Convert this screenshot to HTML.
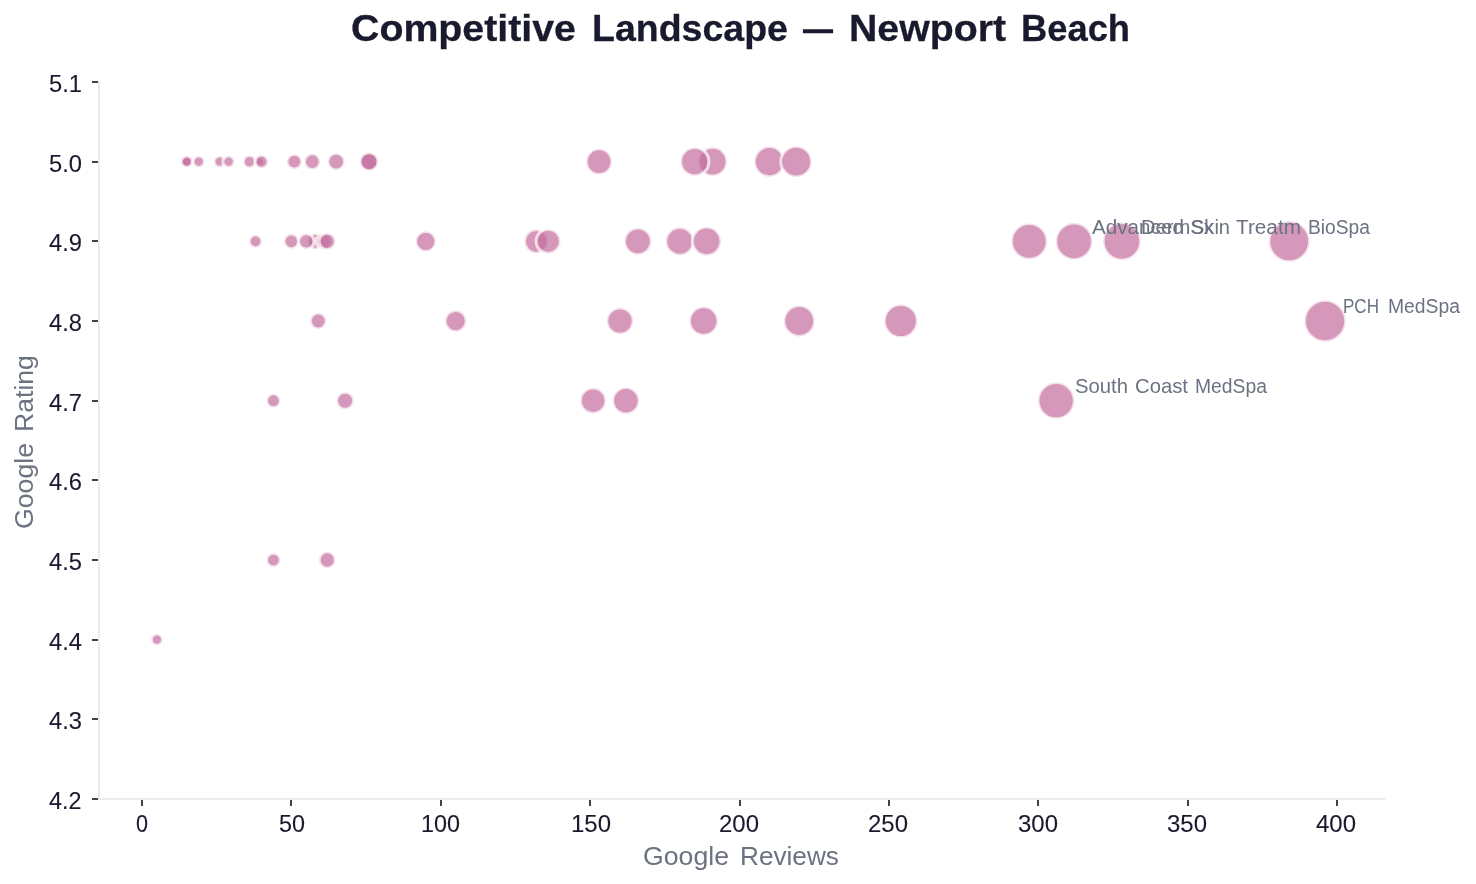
<!DOCTYPE html>
<html><head><meta charset="utf-8"><title>Competitive Landscape — Newport Beach</title>
<style>
html,body{margin:0;padding:0;background:#fff;}
body{width:1476px;height:884px;overflow:hidden;}
svg{display:block;will-change:transform;font-family:"Liberation Sans", sans-serif;}
</style></head><body>
<svg width="1476" height="884" viewBox="0 0 1476 884">
<rect x="0" y="0" width="1476" height="884" fill="#ffffff"/>

<rect x="98" y="81" width="2" height="719" fill="#e9ebee"/>
<rect x="98" y="798" width="1287" height="2" fill="#e9ebee"/>
<rect x="92" y="81" width="6" height="2" fill="rgb(64,64,80)"/>
<rect x="92" y="161" width="6" height="2" fill="rgb(64,64,80)"/>
<rect x="92" y="240" width="6" height="2" fill="rgb(64,64,80)"/>
<rect x="92" y="320" width="6" height="2" fill="rgb(64,64,80)"/>
<rect x="92" y="400" width="6" height="2" fill="rgb(64,64,80)"/>
<rect x="92" y="479" width="6" height="2" fill="rgb(64,64,80)"/>
<rect x="92" y="559" width="6" height="2" fill="rgb(64,64,80)"/>
<rect x="92" y="639" width="6" height="2" fill="rgb(64,64,80)"/>
<rect x="92" y="718" width="6" height="2" fill="rgb(64,64,80)"/>
<rect x="92" y="798" width="6" height="2" fill="rgb(64,64,80)"/>
<rect x="141" y="800" width="2" height="6" fill="rgb(64,64,80)"/>
<rect x="290" y="800" width="2" height="6" fill="rgb(64,64,80)"/>
<rect x="440" y="800" width="2" height="6" fill="rgb(64,64,80)"/>
<rect x="589" y="800" width="2" height="6" fill="rgb(64,64,80)"/>
<rect x="739" y="800" width="2" height="6" fill="rgb(64,64,80)"/>
<rect x="888" y="800" width="2" height="6" fill="rgb(64,64,80)"/>
<rect x="1037" y="800" width="2" height="6" fill="rgb(64,64,80)"/>
<rect x="1187" y="800" width="2" height="6" fill="rgb(64,64,80)"/>
<rect x="1336" y="800" width="2" height="6" fill="rgb(64,64,80)"/>
<g fill="rgb(195,108,156)" fill-opacity="0.7" stroke="#ffffff" stroke-opacity="0.7" stroke-width="3.125">
<circle cx="186.81" cy="161.66" r="5.71"/>
<circle cx="186.81" cy="161.66" r="5.71"/>
<circle cx="198.76" cy="161.66" r="5.71"/>
<circle cx="219.68" cy="161.66" r="5.71"/>
<circle cx="228.64" cy="161.66" r="5.71"/>
<circle cx="249.55" cy="161.66" r="6.25"/>
<circle cx="260.1" cy="161.66" r="4.5"/>
<circle cx="261.50" cy="161.66" r="6.59"/>
<circle cx="294.36" cy="161.66" r="7.44"/>
<circle cx="312.29" cy="161.66" r="7.86"/>
<circle cx="336.19" cy="161.66" r="8.40"/>
<circle cx="369.05" cy="161.66" r="9.08"/>
<circle cx="369.05" cy="161.66" r="9.08"/>
<circle cx="599.09" cy="161.66" r="12.88"/>
<circle cx="712.61" cy="161.66" r="14.40"/>
<circle cx="694.69" cy="161.66" r="14.17"/>
<circle cx="769.38" cy="161.66" r="15.10"/>
<circle cx="796.26" cy="161.66" r="15.42"/>
<circle cx="255.52" cy="241.33" r="6.42"/>
<circle cx="291.38" cy="241.33" r="7.37"/>
<circle cx="315.27" cy="241.33" r="7.93"/>
<circle cx="306.31" cy="241.33" r="7.73"/>
<circle cx="324.24" cy="241.33" r="8.14"/>
<circle cx="327.23" cy="241.33" r="8.20"/>
<circle cx="425.81" cy="241.33" r="10.15"/>
<circle cx="536.35" cy="241.33" r="11.97"/>
<circle cx="548.30" cy="241.33" r="12.15"/>
<circle cx="637.92" cy="241.33" r="13.42"/>
<circle cx="679.75" cy="241.33" r="13.98"/>
<circle cx="706.64" cy="241.33" r="14.32"/>
<circle cx="1029.29" cy="241.33" r="17.95"/>
<circle cx="1074.10" cy="241.33" r="18.40"/>
<circle cx="1121.90" cy="241.33" r="18.87"/>
<circle cx="1289.20" cy="241.33" r="20.41"/>
<circle cx="318.26" cy="321.00" r="8.00"/>
<circle cx="455.69" cy="321.00" r="10.67"/>
<circle cx="620.00" cy="321.00" r="13.18"/>
<circle cx="703.65" cy="321.00" r="14.28"/>
<circle cx="799.25" cy="321.00" r="15.45"/>
<circle cx="900.82" cy="321.00" r="16.60"/>
<circle cx="1325.05" cy="321.00" r="20.73"/>
<circle cx="273.45" cy="400.67" r="6.91"/>
<circle cx="345.15" cy="400.67" r="8.59"/>
<circle cx="593.11" cy="400.67" r="12.80"/>
<circle cx="625.97" cy="400.67" r="13.26"/>
<circle cx="1056.17" cy="400.67" r="18.22"/>
<circle cx="273.45" cy="560.00" r="6.91"/>
<circle cx="327.23" cy="560.00" r="8.20"/>
<circle cx="156.94" cy="639.67" r="5.71"/>
</g>
<text transform="translate(351.00,41.00) scale(1.0820,1)" font-size="36.34" fill="#1a1a2e" font-weight="bold" stroke="#1a1a2e" stroke-width="0.28">Competitive</text>
<text transform="translate(592.00,41.00) scale(1.0325,1)" font-size="36.34" fill="#1a1a2e" font-weight="bold" stroke="#1a1a2e" stroke-width="0.28">Landscape</text>
<text transform="translate(803.00,41.00) scale(0.8256,1)" font-size="36.34" fill="#1a1a2e" font-weight="bold" stroke="#1a1a2e" stroke-width="0.28">—</text>
<text transform="translate(849.00,41.00) scale(1.0802,1)" font-size="36.34" fill="#1a1a2e" font-weight="bold" stroke="#1a1a2e" stroke-width="0.28">Newport</text>
<text transform="translate(1021.00,41.00) scale(0.9996,1)" font-size="36.34" fill="#1a1a2e" font-weight="bold" stroke="#1a1a2e" stroke-width="0.28">Beach</text>
<text transform="translate(136.00,832.00) scale(0.8735,1)" font-size="24.71" fill="#1a1a2e" stroke="#1a1a2e" stroke-width="0.1">0</text>
<text transform="translate(279.00,832.00) scale(0.9463,1)" font-size="24.71" fill="#1a1a2e" stroke="#1a1a2e" stroke-width="0.1">50</text>
<text transform="translate(421.00,832.00) scale(0.9463,1)" font-size="24.71" fill="#1a1a2e" stroke="#1a1a2e" stroke-width="0.1">100</text>
<text transform="translate(571.00,832.00) scale(0.9705,1)" font-size="24.71" fill="#1a1a2e" stroke="#1a1a2e" stroke-width="0.1">150</text>
<text transform="translate(719.00,832.00) scale(0.9705,1)" font-size="24.71" fill="#1a1a2e" stroke="#1a1a2e" stroke-width="0.1">200</text>
<text transform="translate(868.00,832.00) scale(0.9705,1)" font-size="24.71" fill="#1a1a2e" stroke="#1a1a2e" stroke-width="0.1">250</text>
<text transform="translate(1018.00,832.00) scale(0.9705,1)" font-size="24.71" fill="#1a1a2e" stroke="#1a1a2e" stroke-width="0.1">300</text>
<text transform="translate(1167.00,832.00) scale(0.9705,1)" font-size="24.71" fill="#1a1a2e" stroke="#1a1a2e" stroke-width="0.1">350</text>
<text transform="translate(1316.00,832.00) scale(0.9705,1)" font-size="24.71" fill="#1a1a2e" stroke="#1a1a2e" stroke-width="0.1">400</text>
<text transform="translate(49.00,92.00) scale(0.9608,1)" font-size="24.71" fill="#1a1a2e" stroke="#1a1a2e" stroke-width="0.1">5.1</text>
<text transform="translate(49.00,172.00) scale(0.9608,1)" font-size="24.71" fill="#1a1a2e" stroke="#1a1a2e" stroke-width="0.1">5.0</text>
<text transform="translate(49.00,251.00) scale(0.9608,1)" font-size="24.71" fill="#1a1a2e" stroke="#1a1a2e" stroke-width="0.1">4.9</text>
<text transform="translate(49.00,331.00) scale(0.9608,1)" font-size="24.71" fill="#1a1a2e" stroke="#1a1a2e" stroke-width="0.1">4.8</text>
<text transform="translate(49.00,411.00) scale(0.9608,1)" font-size="24.71" fill="#1a1a2e" stroke="#1a1a2e" stroke-width="0.1">4.7</text>
<text transform="translate(49.00,490.00) scale(0.9608,1)" font-size="24.71" fill="#1a1a2e" stroke="#1a1a2e" stroke-width="0.1">4.6</text>
<text transform="translate(49.00,570.00) scale(0.9608,1)" font-size="24.71" fill="#1a1a2e" stroke="#1a1a2e" stroke-width="0.1">4.5</text>
<text transform="translate(49.00,650.00) scale(0.9608,1)" font-size="24.71" fill="#1a1a2e" stroke="#1a1a2e" stroke-width="0.1">4.4</text>
<text transform="translate(49.00,729.00) scale(0.9608,1)" font-size="24.71" fill="#1a1a2e" stroke="#1a1a2e" stroke-width="0.1">4.3</text>
<text transform="translate(49.00,809.00) scale(0.9463,1)" font-size="24.71" fill="#1a1a2e" stroke="#1a1a2e" stroke-width="0.1">4.2</text>
<text transform="translate(643.00,865.00) scale(1.0193,1)" font-size="26.16" fill="#6b7280">Google</text>
<text transform="translate(740.00,865.00) scale(1.0013,1)" font-size="26.16" fill="#6b7280">Reviews</text>
<text transform="translate(33.00,529.00) rotate(-90) scale(1.0193,1)" font-size="26.16" fill="#6b7280">Google</text>
<text transform="translate(33.00,432.00) rotate(-90) scale(1.0180,1)" font-size="26.16" fill="#6b7280">Rating</text>
<text transform="translate(1092.00,234.00) scale(1.0164,1)" font-size="20.35" fill="#6b7280">Advanced</text>
<text transform="translate(1191.00,234.00) scale(0.9854,1)" font-size="20.35" fill="#6b7280">Skin</text>
<text transform="translate(1236.00,234.00) scale(1.0205,1)" font-size="20.35" fill="#6b7280">Treatm</text>
<text transform="translate(1141.00,234.00) scale(0.9935,1)" font-size="20.35" fill="#6b7280">DermSx</text>
<text transform="translate(1308.00,234.00) scale(0.9448,1)" font-size="20.35" fill="#6b7280">BioSpa</text>
<text transform="translate(1343.00,313.00) scale(0.8381,1)" font-size="20.35" fill="#6b7280">PCH</text>
<text transform="translate(1388.00,313.00) scale(0.9499,1)" font-size="20.35" fill="#6b7280">MedSpa</text>
<text transform="translate(1075.00,393.00) scale(0.9968,1)" font-size="20.35" fill="#6b7280">South</text>
<text transform="translate(1135.00,393.00) scale(0.9972,1)" font-size="20.35" fill="#6b7280">Coast</text>
<text transform="translate(1195.00,393.00) scale(0.9499,1)" font-size="20.35" fill="#6b7280">MedSpa</text>
</svg>
</body></html>
